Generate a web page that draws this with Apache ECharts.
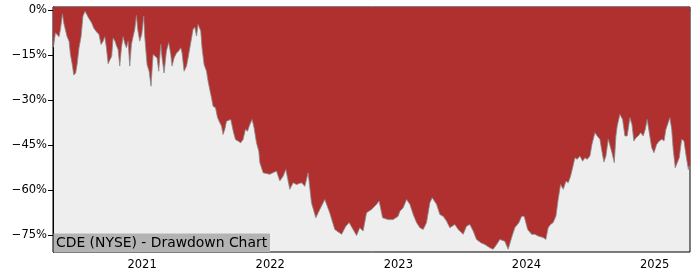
<!DOCTYPE html>
<html>
<head>
<meta charset="utf-8">
<script src="https://cdn.jsdelivr.net/npm/echarts@6/dist/echarts.min.js"></script>
<style>
html,body{margin:0;padding:0;background:#fff;}
#chart{width:700px;height:280px;}
</style>
</head>
<body>
<div id="chart"></div>
<script>
// Time positions in decimal years
const timeYears = [
2020.305,2020.311,2020.324,2020.336,2020.352,2020.363,2020.379,2020.389,2020.404,2020.415,
2020.430,2020.441,2020.457,2020.467,2020.482,2020.493,2020.508,2020.524,2020.539,2020.555,
2020.566,2020.582,2020.597,2020.607,2020.623,2020.639,2020.649,2020.664,2020.680,2020.696,
2020.709,2020.722,2020.735,2020.748,2020.763,2020.774,2020.789,2020.800,2020.813,2020.826,
2020.839,2020.852,2020.865,2020.878,2020.891,2020.904,2020.917,2020.930,2020.943,2020.956,
2020.966,2020.982,2020.998,2021.013,2021.021,2021.039,2021.055,2021.070,2021.086,2021.101,
2021.117,2021.130,2021.146,2021.156,2021.172,2021.190,2021.208,2021.224,2021.234,2021.250,
2021.269,2021.286,2021.302,2021.312,2021.328,2021.347,2021.359,2021.380,2021.398,2021.411,
2021.425,2021.437,2021.448,2021.458,2021.468,2021.484,2021.503,2021.515,2021.528,2021.542,
2021.554,2021.573,2021.589,2021.607,2021.620,2021.632,2021.646,2021.659,2021.671,2021.692,
2021.703,2021.714,2021.729,2021.749,2021.770,2021.788,2021.807,2021.823,2021.841,2021.859,
2021.874,2021.893,2021.911,2021.919,2021.945,2021.997,2022.049,2022.075,2022.101,2022.122,
2022.153,2022.179,2022.205,2022.244,2022.270,2022.296,2022.322,2022.356,2022.387,2022.426,
2022.465,2022.504,2022.557,2022.590,2022.616,2022.647,2022.674,2022.699,2022.725,2022.752,
2022.791,2022.830,2022.850,2022.877,2022.920,2022.959,2022.998,2023.012,2023.037,2023.064,
2023.090,2023.116,2023.142,2023.168,2023.194,2023.220,2023.246,2023.264,2023.279,2023.298,
2023.324,2023.350,2023.376,2023.402,2023.441,2023.467,2023.506,2023.532,2023.558,2023.584,
2023.610,2023.644,2023.675,2023.714,2023.740,2023.767,2023.792,2023.831,2023.857,2023.884,
2023.909,2023.941,2023.962,2023.982,2024.009,2024.040,2024.066,2024.091,2024.130,2024.151,
2024.169,2024.188,2024.208,2024.230,2024.247,2024.266,2024.287,2024.308,2024.326,2024.344,
2024.360,2024.378,2024.396,2024.417,2024.438,2024.456,2024.474,2024.495,2024.511,2024.534,
2024.552,2024.573,2024.586,2024.604,2024.620,2024.638,2024.651,2024.667,2024.685,2024.698,
2024.708,2024.729,2024.750,2024.768,2024.786,2024.807,2024.823,2024.838,2024.854,2024.872,
2024.891,2024.911,2024.927,2024.942,2024.958,2024.977,2024.995,2025.016,2025.036,2025.057,
2025.073,2025.088,2025.106,2025.119,2025.133,2025.145,2025.161,2025.176,2025.192,2025.211,
2025.229,2025.244,2025.263,2025.270,2025.276
];
// Drawdown in percent
const drawdown = [
-12.5,-11.5,-7.6,-8.2,-8.9,-6.5,-1.3,-4.3,-7.0,-8.9,
-10.4,-14.8,-18.7,-21.7,-21.0,-18.2,-12.6,-8.9,-2.0,-0.4,
-0.8,-2.6,-2.0,-4.3,-6.0,-7.0,-6.5,-8.2,-11.5,-10.4,
-8.9,-12.6,-17.9,-17.3,-15.4,-9.3,-10.4,-11.9,-13.2,-18.7,
-12.6,-8.9,-11.1,-12.6,-10.4,-18.7,-11.5,-8.9,-6.5,-1.8,
-6.5,-10.4,-8.0,-2.0,-8.9,-18.2,-20.4,-25.4,-14.8,-14.3,
-16.0,-20.4,-11.5,-16.0,-21.0,-13.7,-10.9,-14.8,-18.7,-16.0,
-14.3,-13.7,-12.6,-14.3,-20.4,-18.7,-16.0,-10.9,-6.5,-5.7,
-8.7,-4.8,-4.3,-7.0,-12.6,-18.2,-20.4,-23.7,-26.5,-29.3,
-32.1,-32.6,-35.9,-37.6,-38.7,-41.5,-39.8,-37.1,-36.5,-36.5,
-37.1,-40.9,-43.2,-43.7,-44.3,-43.2,-39.8,-40.4,-38.2,-36.5,
-39.3,-44.3,-47.1,-50.9,-54.3,-54.8,-53.7,-57.0,-55.4,-53.2,
-59.8,-57.6,-58.2,-57.6,-58.8,-54.3,-64.3,-69.3,-66.5,-63.2,
-67.7,-73.2,-74.8,-72.1,-70.9,-73.2,-75.2,-72.6,-73.7,-67.6,
-66.5,-64.8,-63.7,-69.3,-69.9,-69.9,-68.8,-67.1,-66.0,-63.2,
-64.8,-68.2,-70.9,-72.6,-73.2,-70.9,-64.3,-62.6,-62.0,-64.8,
-68.2,-68.8,-70.4,-72.6,-71.5,-73.2,-74.8,-72.1,-71.5,-73.7,
-76.5,-77.6,-78.2,-79.3,-79.8,-78.2,-76.5,-77.1,-79.8,-75.9,
-72.6,-70.9,-68.8,-68.8,-73.2,-74.8,-74.8,-75.4,-75.9,-76.5,
-72.6,-71.5,-70.9,-68.7,-63.2,-58.2,-59.8,-57.1,-57.6,-55.4,
-52.6,-49.3,-49.8,-48.7,-50.4,-49.3,-49.8,-48.7,-44.8,-40.9,
-42.0,-43.1,-46.5,-50.7,-48.7,-43.1,-43.7,-47.6,-50.9,-42.0,
-38.7,-34.8,-36.5,-42.0,-42.0,-35.9,-38.2,-43.7,-42.6,-42.0,
-40.9,-42.0,-39.8,-36.5,-40.9,-45.9,-47.6,-44.8,-43.7,-43.1,
-43.7,-39.8,-37.6,-35.9,-39.8,-46.5,-52.6,-51.0,-49.3,-43.1,
-43.7,-48.2,-53.2,-52.0,-53.0
];
const xTickYears = [2021, 2022, 2023, 2024, 2025];
const yTickValues = [-75, -60, -45, -30, -15, 0];
const chartLabel = 'CDE (NYSE) - Drawdown Chart';

const seriesData = timeYears.map((t, i) => [t, drawdown[i]]);

const chart = echarts.init(document.getElementById('chart'), null, {renderer: 'canvas'});
const FONT = 'DejaVu Sans';
chart.setOption({
  animation: false,
  backgroundColor: '#ffffff',
  grid: {
    left: 53, right: 10, top: 7, bottom: 28,
    show: true, backgroundColor: '#eeeeee', borderColor: '#000', borderWidth: 1
  },
  xAxis: {
    type: 'value',
    min: 2020.305, max: 2025.276,
    axisLine: {show: true, lineStyle: {color: '#000', width: 1}},
    axisTick: {show: true, length: 5, lineStyle: {color: '#000'}, customValues: xTickYears},
    axisLabel: {
      customValues: xTickYears, color: '#000', fontFamily: FONT, fontSize: 11.5, margin: 7,
      formatter: v => String(Math.round(v))
    },
    splitLine: {show: false}
  },
  yAxis: {
    type: 'value',
    min: -80.7, max: 1.0,
    axisLine: {show: true, lineStyle: {color: '#000', width: 1}},
    axisTick: {show: true, length: 5, lineStyle: {color: '#000'}, customValues: yTickValues},
    axisLabel: {
      customValues: yTickValues, color: '#000', fontFamily: FONT, fontSize: 11.5, margin: 6,
      formatter: v => (v < 0 ? '\u2212' + (-v) : String(v)) + '%'
    },
    splitLine: {show: false}
  },
  series: [{
    type: 'line',
    data: seriesData,
    showSymbol: false,
    symbol: 'none',
    smooth: false,
    lineStyle: {color: '#8a8a8a', width: 0.8},
    areaStyle: {color: '#b03030', opacity: 1, origin: 'end'},
    z: 2
  }],
  graphic: [
    {type: 'rect', z: 100, shape: {x: 53.5, y: 233.5, width: 216.5, height: 18.5}, style: {fill: '#b3b3b3'}},
    {type: 'text', z: 101, x: 56, y: 243, style: {text: chartLabel, font: '13.9px "DejaVu Sans"', fill: '#000', textVerticalAlign: 'middle', verticalAlign: 'middle'}}
  ]
});
</script>
</body>
</html>
